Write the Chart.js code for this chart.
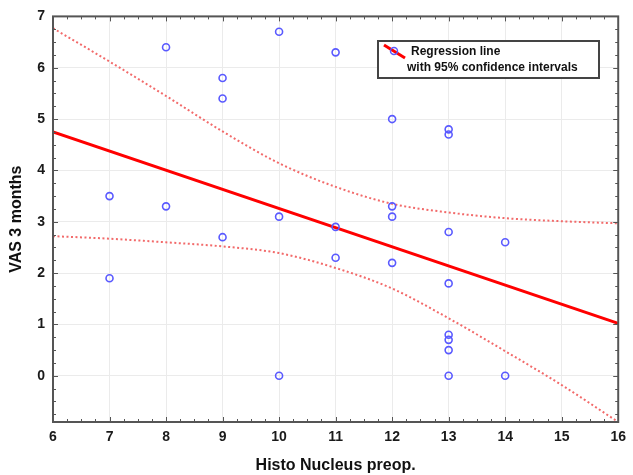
<!DOCTYPE html>
<html>
<head>
<meta charset="utf-8">
<script src="https://cdn.jsdelivr.net/npm/chart.js@4.4.0/dist/chart.umd.min.js"></script>
<style>
  body { margin: 0; background: #fff; }
</style>
</head>
<body>
<canvas id="chart" width="633" height="475"></canvas>
<script>
// Observed points (Histo Nucleus preop. vs VAS 3 months)
const histoX = [7, 7, 8, 8, 9, 9, 9, 10, 10, 10, 11, 11, 11, 12, 12, 12, 12, 13, 13, 13, 13, 13, 13, 13, 13, 14, 14];
const vasY = [3.5, 1.9, 6.4, 3.3, 5.8, 5.4, 2.7, 6.7, 3.1, 0, 6.3, 2.9, 2.3, 5.0, 3.3, 3.1, 2.2, 4.8, 4.7, 2.8, 1.8, 0.8, 0.7, 0.5, 0, 2.6, 0];

// Regression line end points
const regX = [6, 16];
const regY = [4.75, 1.02];

// 95% confidence band, read at each integer x
const ciX = [6, 7, 8, 9, 10, 11, 12, 13, 14, 15, 16];
const ciUpper = [6.77, 6.12, 5.45, 4.76, 4.14, 3.68, 3.35, 3.18, 3.07, 3.01, 2.97];
const ciLower = [2.72, 2.67, 2.60, 2.52, 2.39, 2.10, 1.70, 1.12, 0.48, -0.18, -0.90];

const xTicks = [6, 7, 8, 9, 10, 11, 12, 13, 14, 15, 16];
const yTicks = [0, 1, 2, 3, 4, 5, 6, 7];

const pts = (xs, ys) => xs.map((x, i) => ({ x: x, y: ys[i] }));

// frame, inward ticks on every side and the legend box
const frameTicks = {
  id: "frameTicks",
  afterDatasetsDraw(chart) {
    const { ctx, chartArea: a, scales } = chart;
    const sx = scales.x, sy = scales.y;
    const seg = (x1, y1, x2, y2) => {
      ctx.beginPath();
      ctx.moveTo(x1, y1);
      ctx.lineTo(x2, y2);
      ctx.stroke();
    };
    ctx.save();
    ctx.strokeStyle = "#555";
    ctx.lineWidth = 1;
    for (let v = 6; v <= 16.001; v += 0.25) {
      const px = Math.round(sx.getPixelForValue(v)) + 0.5;
      const len = Math.abs(v - Math.round(v)) < 0.01 ? 5 : 3;
      seg(px, a.bottom, px, a.bottom - len);
      seg(px, a.top, px, a.top + len);
    }
    for (let v = -0.75; v <= 7.001; v += 0.25) {
      const py = Math.round(sy.getPixelForValue(v)) + 0.5;
      const len = Math.abs(v - Math.round(v)) < 0.01 ? 5 : 3;
      seg(a.left, py, a.left + len, py);
      seg(a.right, py, a.right - len, py);
    }
    ctx.lineWidth = 2;
    ctx.strokeRect(a.left, a.top, a.right - a.left, a.bottom - a.top);

    // legend
    ctx.fillStyle = "#fff";
    ctx.fillRect(378, 41, 221, 37);
    ctx.lineWidth = 2;
    ctx.strokeStyle = "#444";
    ctx.strokeRect(378, 41, 221, 37);
    ctx.strokeStyle = "#ff0000";
    ctx.lineWidth = 3;
    seg(384, 45, 405, 58);
    ctx.strokeStyle = "#5a5aff";
    ctx.lineWidth = 1.5;
    ctx.beginPath();
    ctx.arc(394, 51, 3.5, 0, Math.PI * 2);
    ctx.stroke();
    ctx.fillStyle = "#111";
    ctx.font = "bold 12px 'Liberation Sans', Arial, sans-serif";
    ctx.textBaseline = "middle";
    ctx.fillText("Regression line", 411, 52);
    ctx.fillText("with 95% confidence intervals", 407, 68);
    ctx.restore();
  }
};

const tickFont = { family: "'Liberation Sans', Arial, sans-serif", size: 14, weight: "bold" };
const titleFont = { family: "'Liberation Sans', Arial, sans-serif", size: 16, weight: "bold" };

new Chart(document.getElementById("chart"), {
  type: "scatter",
  data: {
    datasets: [
      {
        label: "VAS 3 months",
        data: pts(histoX, vasY),
        pointStyle: "circle",
        pointRadius: 3.5,
        borderColor: "#5a5aff",
        backgroundColor: "rgba(0,0,0,0)",
        borderWidth: 1.6,
        showLine: false
      },
      {
        label: "Regression line",
        data: pts(regX, regY),
        showLine: true,
        borderColor: "#ff0000",
        borderWidth: 3,
        pointRadius: 0
      },
      {
        label: "Upper 95%",
        data: pts(ciX, ciUpper),
        showLine: true,
        borderColor: "#f26a6a",
        borderWidth: 2,
        borderDash: [2, 2.5],
        cubicInterpolationMode: "monotone",
        pointRadius: 0
      },
      {
        label: "Lower 95%",
        data: pts(ciX, ciLower),
        showLine: true,
        borderColor: "#f26a6a",
        borderWidth: 2,
        borderDash: [2, 2.5],
        cubicInterpolationMode: "monotone",
        pointRadius: 0
      }
    ]
  },
  options: {
    responsive: false,
    animation: false,
    layout: { padding: { top: 16, right: 9, left: 0, bottom: 0 } },
    plugins: {
      legend: { display: false },
      tooltip: { enabled: false }
    },
    scales: {
      x: {
        type: "linear",
        min: 6,
        max: 16,
        afterBuildTicks: (scale) => { scale.ticks = xTicks.map((v) => ({ value: v })); },
        afterFit: (scale) => { scale.height = 53; },
        ticks: { font: tickFont, color: "#1a1a1a", padding: 7 },
        grid: { color: "#ebebeb", lineWidth: 1, drawTicks: false },
        border: { display: false },
        title: { display: true, text: "Histo Nucleus preop.", font: titleFont, color: "#111", padding: { top: 0, bottom: 0 } }
      },
      y: {
        type: "linear",
        min: -0.9,
        max: 7,
        afterBuildTicks: (scale) => { scale.ticks = yTicks.map((v) => ({ value: v })); },
        afterFit: (scale) => { scale.width = 53; },
        ticks: { font: tickFont, color: "#1a1a1a", padding: 8 },
        grid: { color: "#ebebeb", lineWidth: 1, drawTicks: false },
        border: { display: false },
        title: { display: true, text: "VAS 3 months", font: titleFont, color: "#111", padding: { top: 7, bottom: 0 } }
      }
    }
  },
  plugins: [frameTicks]
});
</script>
</body>
</html>
